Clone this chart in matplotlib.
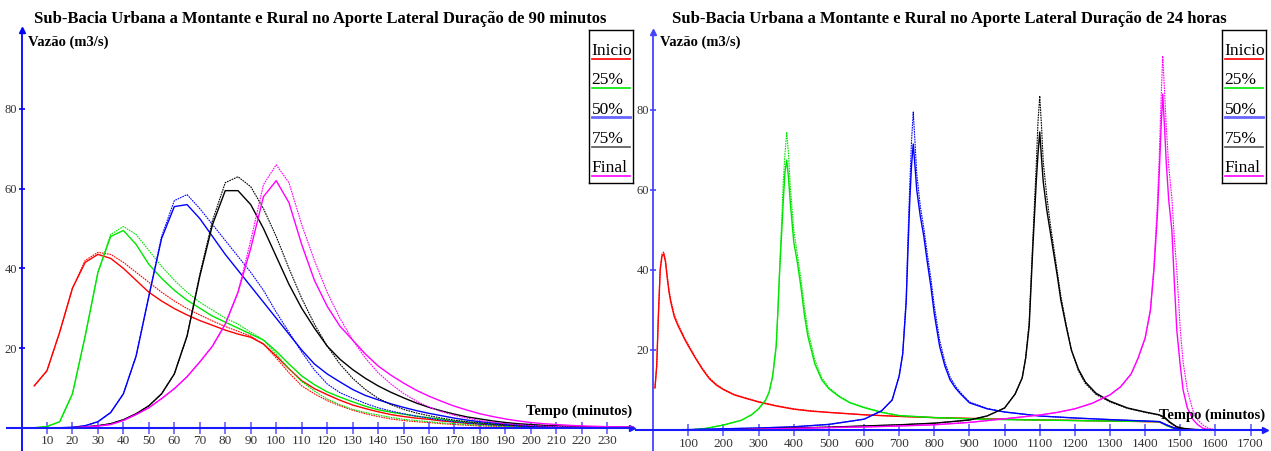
import matplotlib
matplotlib.use("Agg")
import matplotlib.pyplot as plt

plt.rcParams['font.family'] = ['Liberation Serif', 'DejaVu Serif']

W, H = 1271, 451  # output size in pixels

# --- Data: 90 minute storm (5 min steps) ---
T_90 = [5, 10, 15, 20, 25, 30, 35, 40, 45, 50, 55, 60, 65, 70, 75, 80, 85, 90, 95, 100,
        105, 110, 115, 120, 125, 130, 135, 140, 145, 150, 155, 160, 165, 170, 175, 180,
        185, 190, 195, 200, 205, 210, 215, 220, 225, 230, 235, 240]

INICIO_90_A = [10.5, 14.3, 24, 35, 41.5, 43.5, 42.5, 40, 37, 34, 31.8, 29.9, 28.3, 26.9, 25.7, 24.5,
               23.5, 22.7, 21, 18, 14.8, 11.8, 9.8, 8.3, 6.9, 5.7, 4.8, 4.0, 3.3, 2.8, 2.4, 2.1,
               1.7, 1.4, 1.1, 0.9, 0.7, 0.55, 0.4, 0.3, 0.25, 0.2, 0.15, 0.1, 0.08, 0.06, 0.05, 0.04]
INICIO_90_B = [10.5, 14.3, 24, 35, 42, 44, 43.5, 41.5, 39, 36.5, 34, 31.8, 29.9, 28.3, 26.8, 25.4,
               24.2, 23, 21, 17.5, 13.8, 10.5, 8.5, 6.8, 5.5, 4.4, 3.5, 2.8, 2.2, 1.8, 1.5, 1.3,
               1.0, 0.8, 0.6, 0.45, 0.35, 0.25, 0.2, 0.15, 0.1, 0.08, 0.06, 0.05, 0.04, 0.03, 0.02, 0.02]
P25_90_A = [0, 0.3, 1.5, 8.5, 23, 39, 48, 49.5, 46, 41, 37.5, 34.5, 32, 30, 28, 26.5,
            25, 23.5, 22, 19.2, 16, 13, 10.8, 9.0, 7.7, 6.5, 5.4, 4.5, 3.9, 3.4, 2.9, 2.5,
            2.1, 1.7, 1.4, 1.1, 0.9, 0.7, 0.55, 0.4, 0.3, 0.25, 0.2, 0.15, 0.1, 0.08, 0.06, 0.05]
P25_90_B = [0, 0.3, 1.5, 8.5, 23, 39, 48.5, 50.5, 48.5, 44.5, 40.5, 37, 34, 31.5, 29.5, 27.5,
            26, 24, 22, 18.5, 14.8, 11.6, 9.2, 7.2, 5.8, 4.6, 3.8, 3.2, 2.6, 2.1, 1.8, 1.5,
            1.2, 1.0, 0.8, 0.6, 0.45, 0.35, 0.25, 0.2, 0.15, 0.1, 0.08, 0.06, 0.05, 0.04, 0.03, 0.02]
P50_90_A = [0, 0, 0, 0.1, 0.5, 1.5, 3.8, 8.5, 18, 33, 47.5, 55.5, 56, 52.5, 48, 43.5,
            39.5, 35.5, 31.5, 27.5, 23.5, 19.5, 16, 13.5, 11.5, 9.6, 8.1, 7.0, 6.0, 5.1, 4.3, 3.6,
            3.0, 2.4, 1.9, 1.5, 1.2, 0.9, 0.7, 0.5, 0.4, 0.3, 0.22, 0.16, 0.12, 0.09, 0.07, 0.05]
P50_90_B = [0, 0, 0, 0.1, 0.5, 1.5, 3.8, 8.5, 18, 33, 48, 57, 58.5, 55, 51, 47,
            43, 39, 34.5, 29, 24, 19, 14.5, 11, 8.8, 7.4, 6.1, 5.0, 4.2, 3.5, 2.9, 2.4,
            1.9, 1.5, 1.2, 0.9, 0.7, 0.55, 0.4, 0.3, 0.22, 0.16, 0.12, 0.09, 0.07, 0.05, 0.04, 0.03]
P75_90_A = [0, 0, 0, 0, 0.2, 0.5, 1, 2, 3.5, 5.5, 8.5, 13.5, 23, 38, 51, 59.5,
            59.5, 56, 50, 43, 36, 30, 25, 20.5, 17.2, 14.6, 12.4, 10.5, 8.9, 7.5, 6.2, 5.1,
            4.2, 3.4, 2.7, 2.2, 1.7, 1.3, 1.0, 0.8, 0.6, 0.45, 0.35, 0.25, 0.2, 0.15, 0.1, 0.08]
P75_90_B = [0, 0, 0, 0, 0.2, 0.5, 1, 2, 3.5, 5.5, 8.5, 13.5, 23, 38.5, 52, 61.5,
            63, 60.5, 55, 48, 40, 32.5, 26, 20.5, 16, 12.4, 9.6, 7.4, 5.8, 4.6, 3.7, 3.0,
            2.4, 1.9, 1.5, 1.2, 0.9, 0.7, 0.5, 0.4, 0.3, 0.22, 0.16, 0.12, 0.09, 0.07, 0.05, 0.04]
FINAL_90_A = [0, 0, 0, 0, 0.2, 0.4, 0.8, 1.8, 3.3, 5, 7.3, 9.8, 12.8, 16.5, 20.5, 26,
              34, 45, 58, 62, 56.5, 46, 37, 30.5, 25.5, 22, 18.5, 15.5, 13.2, 11.2, 9.4, 7.9,
              6.6, 5.4, 4.4, 3.5, 2.8, 2.2, 1.7, 1.3, 1.0, 0.8, 0.6, 0.45, 0.35, 0.25, 0.2, 0.15]
FINAL_90_B = [0, 0, 0, 0, 0.2, 0.4, 0.8, 1.8, 3.3, 5, 7.3, 9.8, 12.8, 16.5, 20.5, 26,
              34, 47, 61, 66, 61.5, 51, 42, 34, 27.5, 22, 17.5, 13.8, 11, 8.6, 6.7, 5.2,
              4.0, 3.1, 2.4, 1.8, 1.4, 1.0, 0.75, 0.55, 0.4, 0.3, 0.22, 0.16, 0.12, 0.09, 0.07, 0.05]

# --- Data: 24 hour storm ---
T_INICIO_24 = [5, 10, 15, 20, 25, 30, 35, 40, 45, 50, 60, 70, 80, 90, 100, 120, 140, 160, 180, 200,
               230, 260, 300, 350, 400, 450, 500, 600, 700, 800, 900, 1000, 1100, 1200, 1300, 1400,
               1440, 1460, 1480, 1500, 1530, 1560, 1600]
INICIO_24_A = [10.5, 16, 29, 40, 43.5, 44, 42, 38, 34.5, 32, 28.3, 26.2, 24.4, 22.6, 21, 18, 15.2, 12.8,
               11.2, 10.1, 8.8, 8.0, 7.0, 6.0, 5.2, 4.7, 4.4, 3.8, 3.4, 3.1, 2.9, 2.7, 2.5, 2.4, 2.25,
               2.1, 2.05, 1.3, 0.6, 0.25, 0.1, 0.04, 0.0]
INICIO_24_B = [10.5, 16, 29.5, 40.5, 44, 44.5, 42.5, 38.5, 35, 32.5, 28.8, 26.6, 24.7, 22.9, 21.3, 18.2,
               15.4, 13, 11.4, 10.2, 8.9, 8.1, 7.1, 6.1, 5.3, 4.8, 4.4, 3.8, 3.4, 3.1, 2.9, 2.7, 2.5,
               2.4, 2.25, 2.1, 2.05, 1.2, 0.5, 0.2, 0.08, 0.03, 0.0]

T_P25_24 = [0, 100, 150, 200, 250, 280, 300, 320, 330, 340, 350, 355, 360, 366, 370, 375, 380, 385,
            390, 400, 410, 420, 430, 440, 460, 480, 500, 530, 560, 600, 650, 700, 800, 900, 1000,
            1100, 1200, 1300, 1440, 1460, 1480, 1500, 1550, 1600]
P25_24_A = [0, 0, 0.4, 1.25, 2.4, 3.8, 5.3, 7.5, 9.5, 13.5, 21, 30, 40, 50, 57, 64.5, 67.5, 63,
            57, 47, 42, 36, 29, 23.5, 16.5, 12.5, 10.3, 8.3, 6.8, 5.6, 4.4, 3.6, 3.1, 2.8, 2.6,
            2.5, 2.35, 2.25, 2.1, 1.2, 0.5, 0.2, 0.05, 0]
P25_24_B = [0, 0, 0.4, 1.25, 2.4, 3.8, 5.3, 7.5, 9.5, 13.5, 21, 30, 41, 53, 62, 69, 74.5, 69,
            61, 50, 44, 38, 31, 25, 17.5, 13, 10.6, 8.5, 6.9, 5.7, 4.5, 3.6, 3.1, 2.8, 2.6,
            2.5, 2.35, 2.25, 2.1, 1.1, 0.4, 0.15, 0.04, 0]

T_P50_24 = [0, 100, 200, 300, 400, 500, 600, 650, 680, 700, 710, 720, 725, 730, 735, 740, 745, 750,
            760, 770, 780, 790, 800, 815, 830, 845, 860, 875, 900, 950, 1000, 1100, 1200, 1300,
            1440, 1460, 1480, 1500, 1530, 1560]
P50_24_A = [0, 0.1, 0.3, 0.5, 0.8, 1.4, 2.7, 4.8, 7.5, 13.5, 19, 32, 45, 57, 66, 71.5, 66, 60,
            53.5, 48.5, 42, 36, 29, 21, 16, 12.5, 10.5, 9.0, 6.8, 5.3, 4.5, 3.5, 3.0, 2.6,
            2.1, 1.3, 0.6, 0.25, 0.1, 0.0]
P50_24_B = [0, 0.1, 0.3, 0.5, 0.8, 1.4, 2.7, 4.8, 7.5, 13.5, 19, 33, 48, 61, 72, 79.5, 72, 64,
            56, 50.5, 44, 38, 31, 22.5, 17, 13.2, 11, 9.3, 7.0, 5.4, 4.5, 3.5, 3.0, 2.6,
            2.1, 1.2, 0.5, 0.2, 0.08, 0.0]

T_P75_24 = [0, 200, 300, 400, 500, 600, 700, 800, 900, 950, 1000, 1030, 1050, 1060, 1070, 1080,
            1090, 1095, 1100, 1105, 1110, 1120, 1130, 1140, 1150, 1160, 1175, 1190, 1210, 1230,
            1260, 1300, 1350, 1400, 1440, 1455, 1470, 1490, 1510, 1530, 1560, 1600]
P75_24_A = [0, 0, 0.2, 0.5, 0.7, 1.0, 1.3, 1.7, 2.5, 3.5, 5.5, 9, 13, 18, 26, 45,
            62, 69, 74.5, 68, 62, 55, 49.5, 44, 38.5, 32.5, 26, 20, 15.2, 12,
            9.2, 7.2, 5.5, 4.5, 3.8, 3.2, 2.0, 0.8, 0.4, 0.2, 0.05, 0]
P75_24_B = [0, 0, 0.2, 0.5, 0.7, 1.0, 1.3, 1.7, 2.5, 3.5, 5.5, 9, 13, 18, 27, 47,
            66, 77, 83.5, 76, 67, 58.5, 51.5, 45.5, 39.5, 33.5, 26.5, 20, 14.8, 11.6,
            8.9, 7.0, 5.4, 4.4, 3.7, 3.0, 1.8, 0.7, 0.3, 0.15, 0.04, 0]

T_FINAL_24 = [0, 200, 300, 400, 500, 600, 700, 800, 900, 1000, 1100, 1150, 1200, 1250, 1300, 1330,
              1360, 1380, 1400, 1415, 1425, 1435, 1440, 1445, 1450, 1455, 1460, 1467, 1476, 1483,
              1490, 1500, 1508, 1520, 1537, 1550, 1565, 1580, 1600, 1650]
FINAL_24_A = [0, 0, 0.2, 0.4, 0.6, 0.75, 1.0, 1.3, 1.9, 2.8, 3.75, 4.4, 5.3, 6.7, 8.8, 10.8,
              14, 18, 23, 30, 40, 54, 64, 75, 84, 76, 67, 57.5, 50, 37,
              25, 16, 10, 5.5, 2.5, 1.3, 0.4, 0.15, 0.05, 0]
FINAL_24_B = [0, 0, 0.2, 0.4, 0.6, 0.75, 1.0, 1.3, 1.9, 2.8, 3.75, 4.4, 5.3, 6.7, 8.8, 10.8,
              14, 18, 23, 30, 41, 57, 68, 82, 93.5, 85, 76, 66, 58, 48,
              40, 25, 17, 10, 4.5, 2.5, 1.2, 0.4, 0.1, 0]

LABELS = ["Inicio", "25%", "50%", "75%", "Final"]
LINE_COLORS = ["#ff0000", "#00e600", "#0000ff", "#000000", "#ff00ff"]
LEGEND_COLORS = ["#ff0000", "#00e600", "#6666ff", "#555555", "#ff00ff"]

X_TICKS_90 = list(range(10, 240, 10))
X_TICKS_24 = list(range(100, 1800, 100))
Y_TICKS = [20, 40, 60, 80]

TITLE_90 = "Sub-Bacia Urbana a Montante e Rural no Aporte Lateral Duração de 90 minutos"
TITLE_24 = "Sub-Bacia Urbana a Montante e Rural no Aporte Lateral Duração de 24 horas"

SERIES_90 = [(T_90, INICIO_90_A, INICIO_90_B), (T_90, P25_90_A, P25_90_B),
             (T_90, P50_90_A, P50_90_B), (T_90, P75_90_A, P75_90_B),
             (T_90, FINAL_90_A, FINAL_90_B)]
SERIES_24 = [(T_INICIO_24, INICIO_24_A, INICIO_24_B), (T_P25_24, P25_24_A, P25_24_B),
             (T_P50_24, P50_24_A, P50_24_B), (T_P75_24, P75_24_A, P75_24_B),
             (T_FINAL_24, FINAL_24_A, FINAL_24_B)]


# --- Helpers ---
def setup_axes(ax, x_ticks, x_from, x_to, y_from, y_to, y_color):
    ax.patch.set_visible(False)
    ax.spines['top'].set_visible(False)
    ax.spines['right'].set_visible(False)
    ax.spines['left'].set_position(('data', 0))
    ax.spines['bottom'].set_position(('data', 0))
    ax.spines['left'].set_bounds(y_from, y_to)
    ax.spines['bottom'].set_bounds(x_from, x_to)
    ax.spines['left'].set_color(y_color)
    ax.spines['bottom'].set_color('#1a1aff')
    ax.spines['left'].set_linewidth(1.3)
    ax.spines['bottom'].set_linewidth(1.5)
    ax.set_xticks(x_ticks)
    ax.set_yticks(Y_TICKS)
    ax.tick_params(axis='x', direction='inout', length=8, width=1.2, color='#6060ff',
                   labelsize=9.5, labelcolor='#333333', pad=1.5)
    ax.tick_params(axis='y', direction='inout', length=5, width=1.2, color=y_color,
                   labelsize=9, labelcolor='#333333', pad=0.5)
    # arrow heads at the ends of both axes
    ax.plot([x_to], [0], marker='>', color='#1a1aff', markersize=5, clip_on=False)
    ax.plot([0], [y_to], marker='^', color=y_color, markersize=5, clip_on=False)


def draw_series(ax, series):
    for (t, qa, qb), color in zip(series, LINE_COLORS):
        ax.plot(t, qa, color=color, lw=1.0)
        ax.plot(t, qb, color=color, lw=0.8, ls=(0, (1.5, 0.8)))


def draw_legend(fig, x0, y0, x1, y1):
    lax = fig.add_axes([x0 / W, 1 - y1 / H, (x1 - x0) / W, (y1 - y0) / H])
    lax.set_xlim(0, x1 - x0)
    lax.set_ylim(y1 - y0, 0)
    lax.set_xticks([])
    lax.set_yticks([])
    for s in lax.spines.values():
        s.set_linewidth(1.0)
    for i, (name, color) in enumerate(zip(LABELS, LEGEND_COLORS)):
        line_y = 29.3 + i * 29.1
        lw = 2.0 if name == "50%" else 1.2
        lax.plot([2.4, 40.7], [line_y, line_y], color=color, lw=lw)
        lax.text(2.4, line_y - 4, name, ha='left', va='baseline', fontsize=12.5)


# --- Figure ---
fig = plt.figure(figsize=(W / 100, H / 100), dpi=100)

# left chart: x0 at 21.5 px, 2.547 px/min ; y0 at 427.7 px, 3.984 px/unit
ax1 = fig.add_axes([0, 0, 635 / W, 1])
ax1.set_xlim(-21.5 / 2.547, (635 - 21.5) / 2.547)
ax1.set_ylim((427.7 - 451) / 3.984, 427.7 / 3.984)
setup_axes(ax1, X_TICKS_90, -5.7, 239.6, -6.0, 99.8, '#0000ff')
draw_series(ax1, SERIES_90)
ax1.text(2.6, 96.8, "Vazão (m3/s)", fontsize=10.5, fontweight='bold', ha='left', va='center')
ax1.text(239.6, 4.2, "Tempo (minutos)", fontsize=10.5, fontweight='bold', ha='right', va='center')

# right chart: x0 at 653.2 px, 0.3514 px/min ; y0 at 430 px, 4.0 px/unit
ax2 = fig.add_axes([635 / W, 0, (W - 635) / W, 1])
ax2.set_xlim((635 - 653.2) / 0.3514, (W - 653.2) / 0.3514)
ax2.set_ylim((430 - 451) / 4.0, 430 / 4.0)
setup_axes(ax2, X_TICKS_24, (636 - 653.2) / 0.3514, 1741, -6.0, 99.6, '#4444ff')
draw_series(ax2, SERIES_24)
ax2.text(19, 97, "Vazão (m3/s)", fontsize=10.5, fontweight='bold', ha='left', va='center')
ax2.text(1741, 3.75, "Tempo (minutos)", fontsize=10.5, fontweight='bold', ha='right', va='center')

fig.text(320 / W, 1 - 19 / H, TITLE_90, ha='center', va='center', fontsize=12, fontweight='bold')
fig.text(949.5 / W, 1 - 19 / H, TITLE_24, ha='center', va='center', fontsize=12, fontweight='bold')

draw_legend(fig, 589.3, 30, 632.7, 182.7)
draw_legend(fig, 1222.3, 30, 1265.7, 182.7)

fig.savefig("out.png", dpi=100)
